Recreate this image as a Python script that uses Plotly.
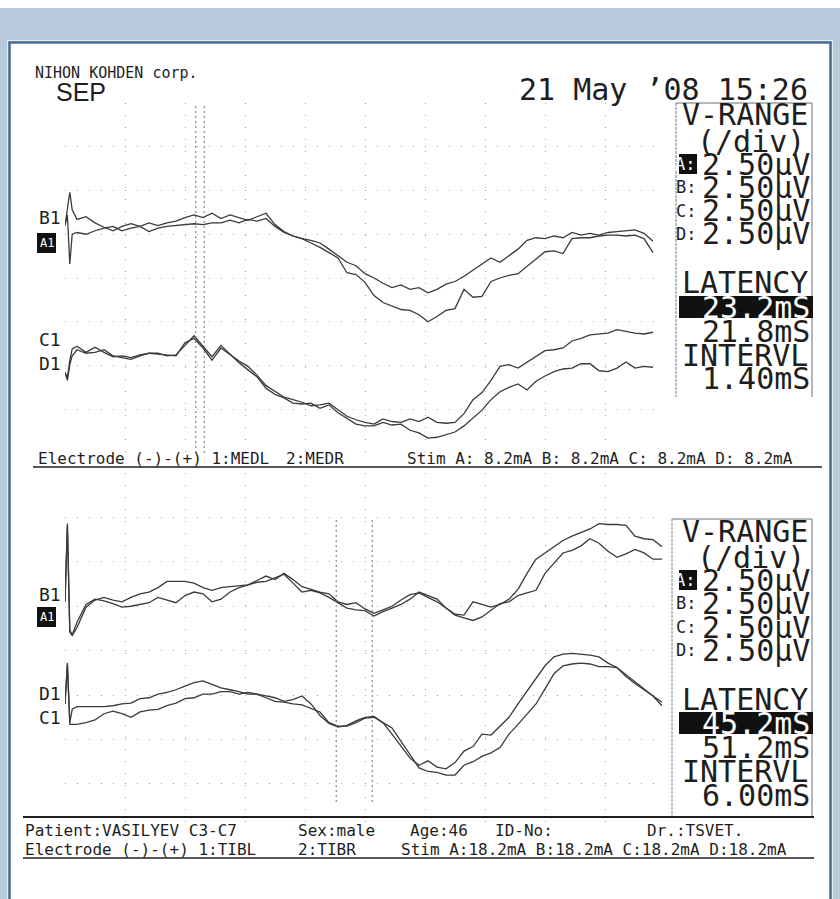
import plotly.graph_objects as go

W, H = 840, 899

# ---------------------------------------------------------------- data
# sweep sample times (ms)
t_top = [0.0, 0.4, 0.8, 1.2,
         2.0, 3.5, 5.0, 6.5, 8.0, 9.5, 11.0, 12.5, 14.0, 15.5,
         17.0, 18.5, 20.0, 21.5, 23.0, 24.5, 26.0, 27.5, 29.0, 30.5,
         32.0, 33.5, 35.0, 36.5, 38.0, 39.5, 41.0, 42.5, 44.0, 45.5,
         47.0, 48.5, 50.0, 51.5, 53.0, 54.5, 56.0, 57.5, 59.0, 60.5,
         62.0, 63.5, 65.0, 66.5, 68.0, 69.5, 71.0, 72.5, 74.0, 75.5,
         77.0, 78.5, 80.0, 81.5, 83.0, 84.5, 86.0, 87.5, 89.0, 90.5,
         92.0, 93.5, 95.0, 96.5, 98.0]
t_bot = t_top + [99.5]

# upper record (median nerve), amplitudes in uV
top_B = [0.0, 1.0, 1.9, 0.9,
         0.35, 0.5, 0.15, -0.1, -0.3, -0.05, 0.1, -0.05, 0.15, 0.0,
         0.15, 0.25, 0.45, 0.6, 0.45, 0.7, 0.4, 0.6, 0.45, 0.3,
         0.5, 0.7, 0.05, -0.35, -0.6, -0.75, -0.85, -1.0, -1.35, -1.7,
         -2.1, -2.3, -2.75, -3.0, -3.3, -3.55, -3.4, -3.65, -3.55, -3.85,
         -3.65, -3.35, -3.2, -2.9, -2.55, -2.15, -1.85, -2.1, -1.75, -1.35,
         -0.85, -0.7, -0.75, -0.6, -0.7, -0.4, -0.55, -0.45, -0.55, -0.4,
         -0.35, -0.3, -0.25, -0.45, -0.9]
top_A = [0.0, 0.6, -2.2, -0.5,
         -0.4, -0.5, -0.3, -0.15, -0.05, -0.3, -0.15, -0.05, -0.35, -0.15,
         -0.05, 0.0, 0.05, 0.1, 0.05, 0.15, 0.15, 0.3, 0.15, 0.35,
         0.25, 0.4, -0.05, -0.4, -0.6, -0.75, -1.0, -1.25, -1.55, -1.85,
         -2.7, -2.8, -3.25, -4.0, -4.4, -4.6, -4.8, -4.85, -5.1, -5.5,
         -5.2, -4.85, -4.75, -3.65, -4.1, -4.05, -3.2, -3.0, -2.85, -2.75,
         -2.35, -1.9, -1.5, -1.45, -1.6, -0.75, -0.7, -0.7, -0.6, -0.55,
         -0.55, -0.6, -0.55, -0.75, -1.55]
top_C = [-1.0, -1.45, -0.55, -0.05,
         0.3, 0.1, 0.15, 0.3, -0.05, -0.15, -0.25, -0.05, 0.1, 0.05,
         0.0, -0.05, 0.7, 0.95, 0.4, -0.3, 0.4, 0.0, -0.35, -0.65,
         -1.15, -1.75, -2.1, -2.4, -2.55, -2.7, -2.9, -2.85, -2.75, -3.15,
         -3.5, -3.7, -3.85, -3.95, -3.65, -3.8, -3.85, -3.65, -3.8, -3.55,
         -3.85, -3.9, -3.85, -3.35, -2.55, -2.15, -1.45, -0.65, -0.55, -0.75,
         -0.4, -0.1, 0.25, 0.3, 0.4, 0.8, 0.95, 1.15, 1.2, 1.25,
         1.45, 1.35, 1.25, 1.2, 1.3]
top_D = [-1.0, -1.3, -0.3, 0.35,
         0.5, 0.15, 0.45, 0.15, -0.1, -0.05, -0.15, 0.0, 0.1, 0.1,
         -0.05, 0.0, 0.55, 1.1, 0.5, -0.1, 0.55, 0.05, -0.45, -0.85,
         -1.25, -1.9, -2.25, -2.45, -2.75, -2.8, -2.75, -3.05, -2.85, -3.3,
         -3.65, -3.95, -4.05, -4.05, -3.85, -4.0, -3.95, -4.3, -4.45, -4.75,
         -4.7, -4.55, -4.4, -4.05, -3.6, -3.15, -2.55, -2.1, -1.85, -1.65,
         -2.0, -1.5, -1.2, -0.95, -0.8, -0.75, -0.5, -0.5, -0.9, -0.95,
         -0.75, -0.4, -0.75, -0.65, -0.7]

# lower record (tibial nerve), amplitudes in uV
bot_B = [0.0, 4.4, -1.7, -1.9,
         -1.45, -0.3, 0.1, 0.25, 0.1, 0.0, 0.25, 0.45, 0.55, 0.8,
         1.15, 1.15, 1.15, 1.05, 0.8, 0.65, 0.8, 0.85, 0.9, 0.95,
         1.2, 1.45, 1.25, 1.6, 1.25, 0.85, 0.7, 0.55, 0.45, 0.0,
         -0.15, -0.05, -0.4, -0.65, -0.45, -0.25, 0.1, 0.4, 0.5, 0.25,
         0.0, -0.35, -0.7, -0.75, 0.0, -0.15, -0.3, -0.15, 0.15, 0.7,
         1.6, 2.4, 2.75, 3.1, 3.45, 3.7, 3.9, 4.1, 4.4, 4.35,
         4.35, 4.3, 3.7, 3.55, 3.5, 3.1]
bot_A = [0.0, 4.3, -1.6, -1.85,
         -1.15, -0.15, 0.15, 0.05, -0.1, -0.3, -0.25, -0.15, -0.05, 0.25,
         0.1, -0.05, 0.35, 0.55, 0.45, 0.0, 0.15, 0.55, 0.8, 0.95,
         1.1, 1.15, 1.35, 1.55, 1.05, 0.55, 0.65, 0.5, 0.25, -0.05,
         -0.35, -0.45, -0.5, -0.8, -0.55, -0.35, -0.15, 0.15, 0.55, 0.35,
         0.15, -0.35, -0.75, -0.9, -1.05, -0.85, -0.5, -0.1, 0.0, 0.35,
         0.5, 0.65, 1.6, 2.15, 2.75, 2.9, 3.15, 3.55, 3.3, 2.85,
         2.5, 2.7, 2.95, 2.75, 2.4, 2.4]
bot_D = [0.0, 2.3, -1.05, -0.3,
         -0.15, -0.15, -0.15, -0.15, -0.1, 0.0, 0.05, 0.3, 0.35, 0.55,
         0.65, 0.8, 1.0, 1.2, 1.3, 1.1, 0.9, 0.8, 0.7, 0.55,
         0.55, 0.45, 0.35, 0.15, 0.25, 0.45, 0.0, -0.65, -1.1, -1.3,
         -1.2, -0.95, -0.75, -0.7, -1.05, -1.7, -2.4, -3.05, -3.45, -3.2,
         -3.55, -3.65, -3.3, -2.65, -2.4, -1.7, -1.75, -1.25, -0.75, 0.0,
         0.7, 1.45, 2.15, 2.65, 2.8, 2.85, 2.8, 2.75, 2.65, 2.3,
         2.05, 1.55, 1.15, 0.8, 0.4, 0.1]
bot_C = [0.0, 2.2, -1.15, -1.15,
         -1.15, -1.05, -0.9, -0.55, -0.4, -0.55, -0.75, -0.45, -0.35, -0.3,
         -0.1, 0.05, 0.3, 0.35, 0.55, 0.55, 0.7, 0.7, 0.55, 0.65,
         0.55, 0.35, 0.15, 0.1, 0.0, -0.05, -0.25, -0.45, -1.05, -1.25,
         -1.25, -1.05, -0.8, -0.75, -1.05, -1.35, -2.1, -2.85, -3.6, -3.8,
         -3.85, -4.0, -4.0, -3.45, -3.25, -2.95, -2.75, -2.45, -1.7, -1.15,
         -0.55, 0.0, 0.85, 1.7, 2.15, 2.25, 2.3, 2.25, 2.1, 2.1,
         2.05, 1.65, 1.25, 0.8, 0.45, -0.1]

channels = ["A", "B", "C", "D"]
v_range = [2.50, 2.50, 2.50, 2.50]          # uV per division
lat_top = [23.2, 21.8]                       # cursor latencies (ms)
int_top = 1.40
lat_bot = [45.2, 51.2]
int_bot = 6.00

header_left = "NIHON KOHDEN corp."
mode_name = "SEP"
stamp = "21 May ’08 15:26"
electrode_top = ["Electrode (-)-(+) 1:MEDL", "2:MEDR",
                 "Stim A: 8.2mA B: 8.2mA C: 8.2mA D: 8.2mA"]
patient_row = ["Patient:VASILYEV C3-C7", "Sex:male", "Age:46", "ID-No:", "Dr.:TSVET."]
electrode_bot = ["Electrode (-)-(+) 1:TIBL", "2:TIBR",
                 "Stim A:18.2mA B:18.2mA C:18.2mA D:18.2mA"]

# ---------------------------------------------------------------- helpers
def px(x):
    return x / W


def py(y):
    return 1 - y / H


MONO = "DejaVu Sans Mono"
INK = "#1e1e1e"
TRACE = "#3a3a3a"

fig = go.Figure()

# channel baselines within each record (uV above the panel floor)
base_top = {"B": 13.0, "A": 13.0, "C": 5.6, "D": 5.6}
base_bot = {"B": 12.75, "A": 12.75, "D": 7.0, "C": 7.0}

for name, vals in [("B", top_B), ("A", top_A), ("C", top_C), ("D", top_D)]:
    fig.add_trace(go.Scatter(
        x=t_top, y=[v + base_top[name] for v in vals], mode="lines",
        line=dict(color=TRACE, width=1.3), xaxis="x", yaxis="y",
        hoverinfo="skip", name=name + "1"))

for name, vals in [("B", bot_B), ("A", bot_A), ("D", bot_D), ("C", bot_C)]:
    fig.add_trace(go.Scatter(
        x=t_bot, y=[v + base_bot[name] for v in vals], mode="lines",
        line=dict(color=TRACE, width=1.3), xaxis="x2", yaxis="y2",
        hoverinfo="skip", name=name + "1"))

grid = dict(showticklabels=False, ticks="", showline=False, zeroline=False,
            showgrid=True, gridcolor="#a4a4a4", gridwidth=1,
            griddash="1px,11px", fixedrange=True)

fig.update_layout(
    width=W, height=H, margin=dict(l=0, r=0, t=0, b=0),
    paper_bgcolor="white", plot_bgcolor="rgba(0,0,0,0)", showlegend=False,
    xaxis=dict(domain=[px(65), px(665)], range=[0, 100], dtick=10, tick0=0,
               anchor="y", **grid),
    yaxis=dict(domain=[py(453), py(103)], range=[0, 20], dtick=v_range[0],
               tick0=0, anchor="x", **grid),
    xaxis2=dict(domain=[px(65), px(665)], range=[0, 100], dtick=10, tick0=0,
                anchor="y2", **grid),
    yaxis2=dict(domain=[py(823), py(473)], range=[0.3, 20], dtick=v_range[0],
                tick0=0, anchor="x2", **grid),
)

shapes = []
# page background band and white sheet with frame
shapes.append(dict(type="rect", xref="paper", yref="paper", x0=0, x1=1,
                   y0=-0.02, y1=py(8), fillcolor="#b6cadc",
                   line=dict(width=0), layer="below"))
shapes.append(dict(type="rect", xref="paper", yref="paper", x0=px(7.5), x1=px(832.5),
                   y0=-0.02, y1=py(40.5), fillcolor="rgba(0,0,0,0)",
                   line=dict(color="#e6edf3", width=1), layer="below"))
shapes.append(dict(type="rect", xref="paper", yref="paper", x0=px(9.5), x1=px(830.5),
                   y0=-0.02, y1=py(42.5), fillcolor="white",
                   line=dict(color="#4c6f8f", width=2.5), layer="below"))


def hline(x0, x1, y, color=INK, width=1.0, dash="solid"):
    shapes.append(dict(type="line", xref="paper", yref="paper",
                       x0=px(x0), x1=px(x1), y0=py(y), y1=py(y),
                       line=dict(color=color, width=width, dash=dash)))


def vline(x, y0, y1, color=INK, width=1.0, dash="solid"):
    shapes.append(dict(type="line", xref="paper", yref="paper",
                       x0=px(x), x1=px(x), y0=py(y0), y1=py(y1),
                       line=dict(color=color, width=width, dash=dash)))


def block(x0, x1, y0, y1, color="#111111"):
    shapes.append(dict(type="rect", xref="paper", yref="paper",
                       x0=px(x0), x1=px(x1), y0=py(y1), y1=py(y0),
                       fillcolor=color, line=dict(width=0)))


# latency cursors
for lat in lat_top:
    shapes.append(dict(type="line", xref="x", yref="y domain", x0=lat, x1=lat,
                       y0=0.0, y1=1.0,
                       line=dict(color="#6a6a6a", width=1, dash="2px,3px")))
for lat in lat_bot:
    shapes.append(dict(type="line", xref="x2", yref="y2 domain", x0=lat, x1=lat,
                       y0=0.06, y1=0.87,
                       line=dict(color="#6a6a6a", width=1, dash="2px,3px")))

annotations = []


def text(x, y, s, size=30, anchor="left", color=INK, family=MONO):
    annotations.append(dict(x=px(x), y=py(y), xref="paper", yref="paper",
                            text=s, showarrow=False, xanchor=anchor,
                            yanchor="middle",
                            font=dict(family=family, size=size, color=color)))


# header
text(33, 73, header_left, size=15)
text(54, 92, mode_name, size=25, family="Liberation Sans")
text(810, 90, stamp, size=30, anchor="right")


def side_box(dy, lats, interval, box_left, box_bottom):
    hline(box_left, 812, 103 + dy, color="#6e6e6e", width=1)
    vline(box_left, 103 + dy, box_bottom, color="#7a7a7a", width=1, dash="3px,1px")
    vline(812, 103 + dy, box_bottom, color="#6e6e6e", width=1)
    text(810, 115 + dy, "V-RANGE", anchor="right")
    text(807, 141 + dy, "(/div)", anchor="right")
    rows = [164, 187, 211, 234]
    for ch, vr, ry in zip(channels, v_range, rows):
        if ch == "A":
            block(679, 697, ry + dy - 10, ry + dy + 10)
            text(697, ry + dy, ch + ":", size=17, anchor="right", color="white")
        else:
            text(698, ry + dy, ch + ":", size=17, anchor="right")
        text(812, ry + dy, f"{vr:.2f}µV", anchor="right")
    text(810, 283 + dy, "LATENCY", anchor="right")
    block(679, 813, 296 + dy, 318 + dy)
    text(812, 307 + dy, f"{lats[0]:.1f}mS", anchor="right", color="white")
    text(812, 331 + dy, f"{lats[1]:.1f}mS", anchor="right")
    text(810, 355 + dy, "INTERVL", anchor="right")
    text(812, 379 + dy, f"{interval:.2f}mS", anchor="right")


side_box(0, lat_top, int_top, 676, 397)
side_box(416, lat_bot, int_bot, 672, 817)


def channel_labels(y_first, y_box, y_third, y_fourth, first, third, fourth):
    text(37, y_first, first, size=18)
    block(37, 56, y_box - 10, y_box + 10)
    text(38, y_box, "A1", size=12, color="white")
    text(37, y_third, third, size=18)
    text(37, y_fourth, fourth, size=18)


channel_labels(218, 243, 340, 363, "B1", "C1", "D1")
channel_labels(594, 617, 693, 717, "B1", "D1", "C1")

# record footers
for s, x in zip(electrode_top, [36, 284, 405]):
    text(x, 458, s, size=16)
hline(33, 822, 467, width=1.3)

hline(23, 814, 817, width=2)
for s, x in zip(patient_row, [23, 296, 408, 493, 645]):
    text(x, 830, s, size=16)
for s, x in zip(electrode_bot, [23, 296, 399]):
    text(x, 849, s, size=16)
hline(23, 814, 858, width=1.5)

fig.update_layout(shapes=shapes, annotations=annotations)
fig.write_html("out.html")
